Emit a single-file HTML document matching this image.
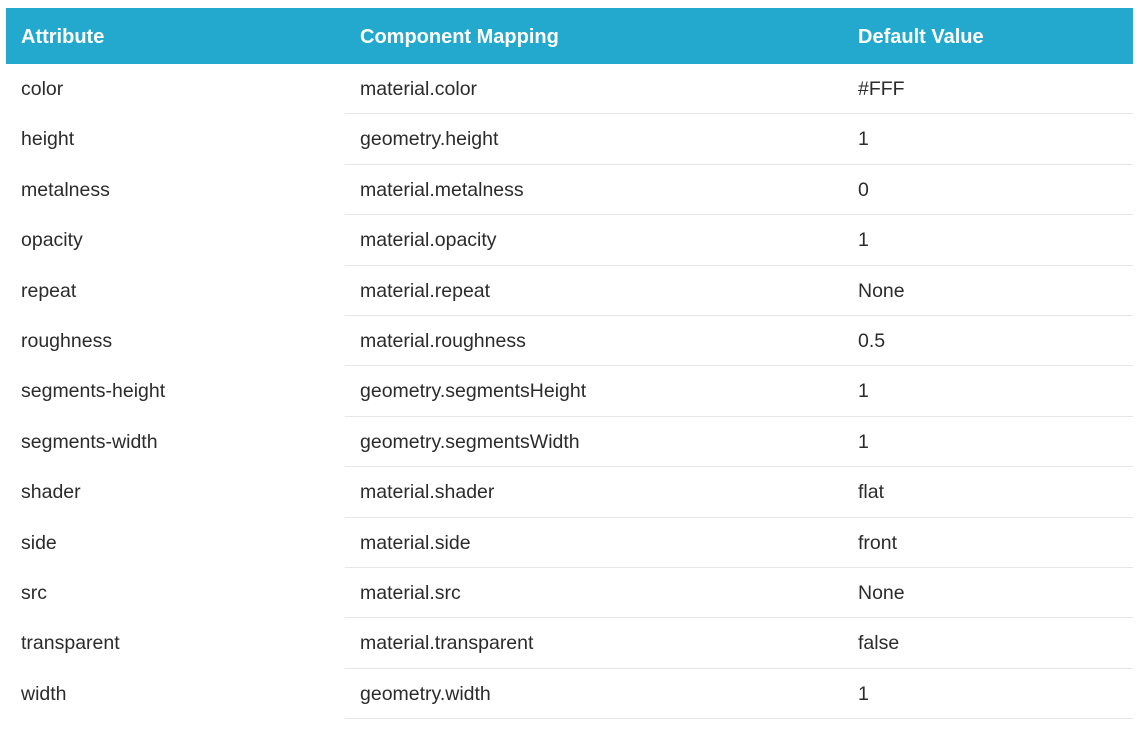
<!DOCTYPE html>
<html><head><style>
body{margin:0;width:1140px;height:738px;background:#fff;font-family:"Liberation Sans",sans-serif;position:relative;overflow:hidden}
.h{position:absolute;left:6px;top:8px;width:1127px;height:56px;background:#22a9cd}
.t{position:absolute;font-size:19.5px;color:#2b2b2b;white-space:nowrap;line-height:24px}
.hd{color:#fff;font-weight:bold;font-size:20px}
.l{position:absolute;left:345px;width:788px;height:1px;background:#e6e6e6}
</style></head><body>
<div class="h"></div>
<div class="t hd" style="left:21px;top:25px">Attribute</div>
<div class="t hd" style="left:360px;top:25px">Component Mapping</div>
<div class="t hd" style="left:858px;top:25px">Default Value</div>
<div id="r"></div>
<script>
const d=[["color","material.color","#FFF"],["height","geometry.height","1"],["metalness","material.metalness","0"],["opacity","material.opacity","1"],["repeat","material.repeat","None"],["roughness","material.roughness","0.5"],["segments-height","geometry.segmentsHeight","1"],["segments-width","geometry.segmentsWidth","1"],["shader","material.shader","flat"],["side","material.side","front"],["src","material.src","None"],["transparent","material.transparent","false"],["width","geometry.width","1"]];
let h="";d.forEach((r,i)=>{const y=64+i*50.4;const c=y+26;
h+=`<div class="t" style="left:21px;top:${c-13}px">${r[0]}</div><div class="t" style="left:360px;top:${c-13}px">${r[1]}</div><div class="t" style="left:858px;top:${c-13}px">${r[2]}</div><div class="l" style="top:${Math.round(y+50.4)-1}px"></div>`;});
document.getElementById("r").innerHTML=h;
</script>
</body></html>
